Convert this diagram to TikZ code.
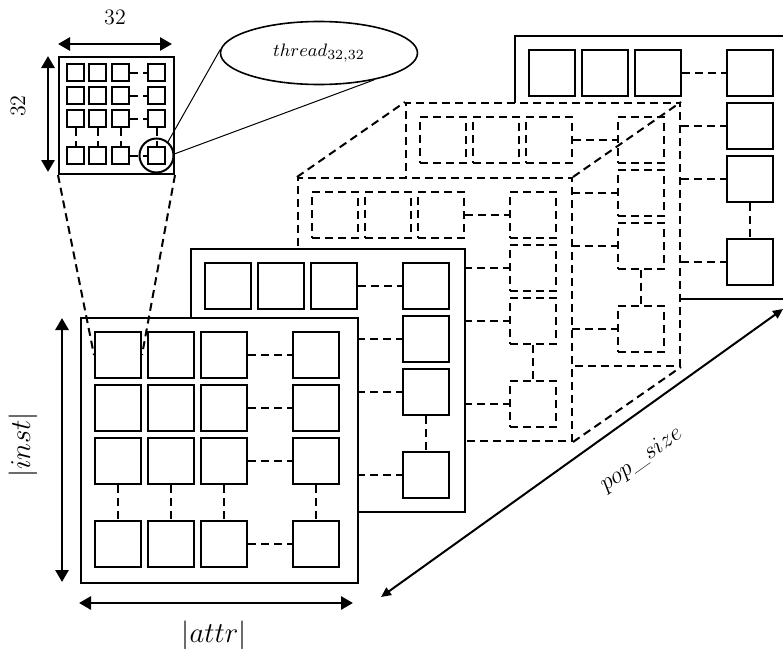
\documentclass[tikz,border=0pt]{standalone}
\usetikzlibrary{arrows.meta, shapes.geometric}

% one block of |inst| x |attr| cells, top-left corner at #2;
% #5 is the style of the cells that sit behind the next block
\newcommand{\matpanel}[5]{%
  \begin{scope}[shift={(#2)}]
    \node[#3] (#1) at (0,0) {};
    \foreach \row/\yy in {1/15, 2/68, 3/121, 4/204}
      \foreach \col/\xx in {1/15, 2/68, 3/121, 4/213} {
        \pgfmathtruncatemacro\behind{(\row>1)*(\col<4)}
        \ifnum\behind=1
          \node[#5] (#1-\row-\col) at (\xx+23, \yy+23) {};
        \else
          \node[#4] (#1-\row-\col) at (\xx+23, \yy+23) {};
        \fi
      }
    \foreach \i in {1,...,4} {
      \draw[link] (#1-\i-3) -- (#1-\i-4);
      \draw[link] (#1-3-\i) -- (#1-4-\i);
    }
  \end{scope}}

\begin{document}
\begin{tikzpicture}[
    x = 0.5pt, y = -0.5pt,
    >={Triangle[length=6pt, width=6.5pt]},
    gap/.style = {dash pattern = on 4pt off 2.5pt},
    panel/.style = {
        rectangle, draw, fill = white, line width = 1pt, inner sep = 0pt,
        minimum width = 137pt, minimum height = 131.5pt, anchor = north west
    },
    cell/.style = {
        rectangle, draw, fill = white, line width = 1pt, inner sep = 0pt,
        minimum size = 23pt
    },
    hidden/.style = {rectangle, inner sep = 0pt, minimum size = 23pt},
    link/.style = {gap, line width = 1pt},
    dim/.style = {line width = 1.4pt, <->},
    popdim/.style = {line width = 1pt,
        {Triangle[length=5pt, width=4.5pt]}-{Triangle[length=5pt, width=4.5pt]}},
    dimtext/.style = {font = \fontsize{14}{16}\selectfont},
    numtext/.style = {font = \fontsize{11}{13}\selectfont}
]
\useasboundingbox (0,0) rectangle (783,653);

% --- Population layers, back to front ---
\matpanel{lay4}{514,35}{panel}{cell}{hidden}
\matpanel{lay3}{405,102}{panel, gap}{cell, gap}{hidden}
\matpanel{lay2}{297,177}{panel, gap}{cell, gap}{hidden}

\draw[link] (lay2.north west) -- (lay3.north west);
\draw[link] (lay2.north east) -- (lay3.north east);
\draw[link] (lay2.south east) -- (lay3.south east);

\matpanel{lay1}{190,248}{panel}{cell}{hidden}
\matpanel{lay0}{80,317}{panel, minimum width = 138.5pt, minimum height = 132.5pt}{cell}{cell}

% --- Thread block of one cell ---
\node[panel, minimum width = 57.5pt, minimum height = 58.5pt] (blk) at (58,56) {};
\foreach \row/\yy in {1/8, 2/31, 3/54, 4/91}
  \foreach \col/\xx in {1/9, 2/31, 3/54, 4/90}
    \node[cell, minimum size = 8.5pt] (blk-\row-\col) at (66.5+\xx, 64.5+\yy) {};
\foreach \i in {1,...,4} {
  \draw[link] (blk-\i-3) -- (blk-\i-4);
  \draw[link] (blk-3-\i) -- (blk-4-\i);
}

\node[circle, draw, line width = 1pt, minimum size = 17pt, inner sep = 0pt] (cir) at (blk-4-4) {};
\node[ellipse, draw, line width = 0.8pt, minimum width = 98.5pt, minimum height = 31.5pt,
      inner sep = 0pt, font = \fontsize{9.5}{11}\selectfont] (thr) at (319,53) {$thread_{32,32}$};
\draw[line width = 0.5pt] (cir.50) -- (thr.178);
\draw[line width = 0.5pt] (cir.5) -- (thr.-26);

\draw[link] (blk.south west) -- (lay0-1-1.west);
\draw[link] (blk.south east) -- (lay0-1-1.east);

% --- Dimension arrows and labels ---
\coordinate (topL) at (58,44);   \coordinate (topR) at (172,44);
\coordinate (sideT) at (48,56);  \coordinate (sideB) at (48,172);
\coordinate (instT) at (62,318); \coordinate (instB) at (62,582);
\coordinate (attrL) at (79,603); \coordinate (attrR) at (353,603);
\coordinate (popA) at (381,597); \coordinate (popB) at (783,309);

\draw[dim] (topL) -- (topR);
\draw[dim] (sideT) -- (sideB);
\draw[dim] (instT) -- (instB);
\draw[dim] (attrL) -- (attrR);
\draw[popdim] (popA) -- node[pos = 0.59, sloped, below = 11pt,
    font = \fontsize{13}{15}\selectfont] (lpop) {$pop\_size$} (popB);

\node[numtext] (ltop) at (115,17) {32};
\node[numtext, rotate = 90] (lside) at (18,106) {32};
\node[dimtext, rotate = 90] (linst) at (23,445) {$|inst|$};
\node[dimtext] (lattr) at (214,635) {$|attr|$};

\end{tikzpicture}
\end{document}
